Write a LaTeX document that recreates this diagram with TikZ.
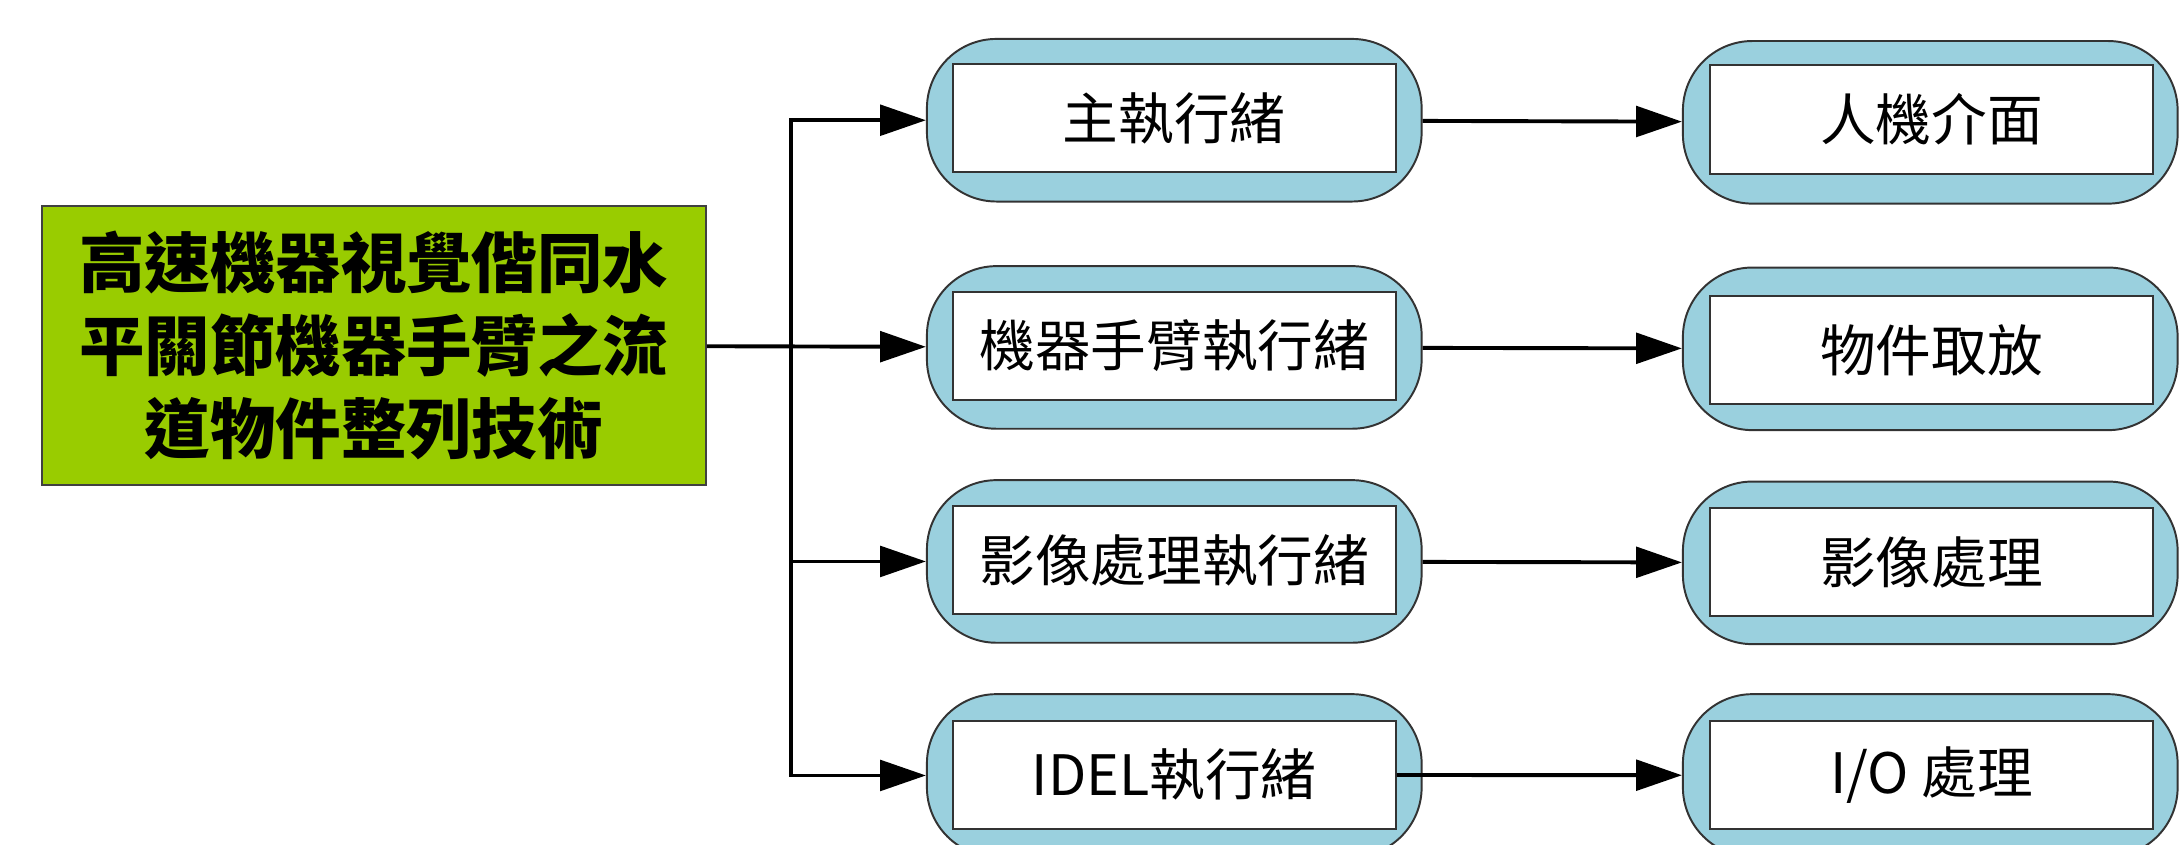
\documentclass[tikz,border=0pt]{standalone}
\usepackage{fontspec}
\newfontfamily\cjk{Noto Sans CJK TC}
\usetikzlibrary{arrows.meta}
\definecolor{rootgreen}{HTML}{99CC00}
\definecolor{threadblue}{HTML}{9AD0DE}

\begin{document}
\begin{tikzpicture}[rootnode/.style={draw=black!75,fill=rootgreen,minimum width=4.78cm,minimum height=2.01cm,inner sep=0pt,align=center,font=\cjk\bfseries\fontsize{13.4}{17}\selectfont},
    onode/.style={draw=black!80,fill=threadblue,rounded corners=0.5cm,minimum width=3.56cm,minimum height=1.17cm},
    inode/.style={draw=black!80,fill=white,minimum width=3.19cm,minimum height=0.78cm,inner sep=0pt,font=\cjk\fontsize{11.4}{14}\selectfont},
    conn/.style={line width=0.8pt,-{Triangle[length=3.3mm,width=2.2mm]}}]
    \clip (0,0) rectangle (15.68,-6.08);

    \node[rootnode] (root) at (2.69,-2.485) {高速機器視覺偕同水\\平關節機器手臂之流\\道物件整列技術};

    \node[onode] (t1) at (8.45,-0.865) {};
    \node[inode] (t1i) at (8.45,-0.85) {主執行緒};
    \node[onode] (t2) at (8.45,-2.50) {};
    \node[inode] (t2i) at (8.45,-2.49) {機器手臂執行緒};
    \node[onode] (t3) at (8.45,-4.04) {};
    \node[inode] (t3i) at (8.45,-4.03) {影像處理執行緒};
    \node[onode] (t4) at (8.45,-5.58) {};
    \node[inode] (t4i) at (8.45,-5.575) {IDEL執行緒};

    \node[onode] (j1) at (13.89,-0.88) {};
    \node[inode] (j1i) at (13.90,-0.86) {人機介面};
    \node[onode] (j2) at (13.89,-2.51) {};
    \node[inode] (j2i) at (13.90,-2.52) {物件取放};
    \node[onode] (j3) at (13.89,-4.05) {};
    \node[inode] (j3i) at (13.90,-4.045) {影像處理};
    \node[onode] (j4) at (13.89,-5.58) {};
    \node[inode] (j4i) at (13.90,-5.575) {I/O 處理};

    \coordinate (split) at (5.69,-2.50);

    \draw[conn] (root) -- (t2);
    \draw[conn] (split) |- (t1);
    \draw[conn] (split) |- (t3);
    \draw[conn] (split) |- (t4);

    \draw[conn] (t1) -- (j1);
    \draw[conn] (t2) -- (j2);
    \draw[conn] (t3) -- (j3);
    \draw[conn] (t4i) -- (j4);
\end{tikzpicture}
\end{document}
